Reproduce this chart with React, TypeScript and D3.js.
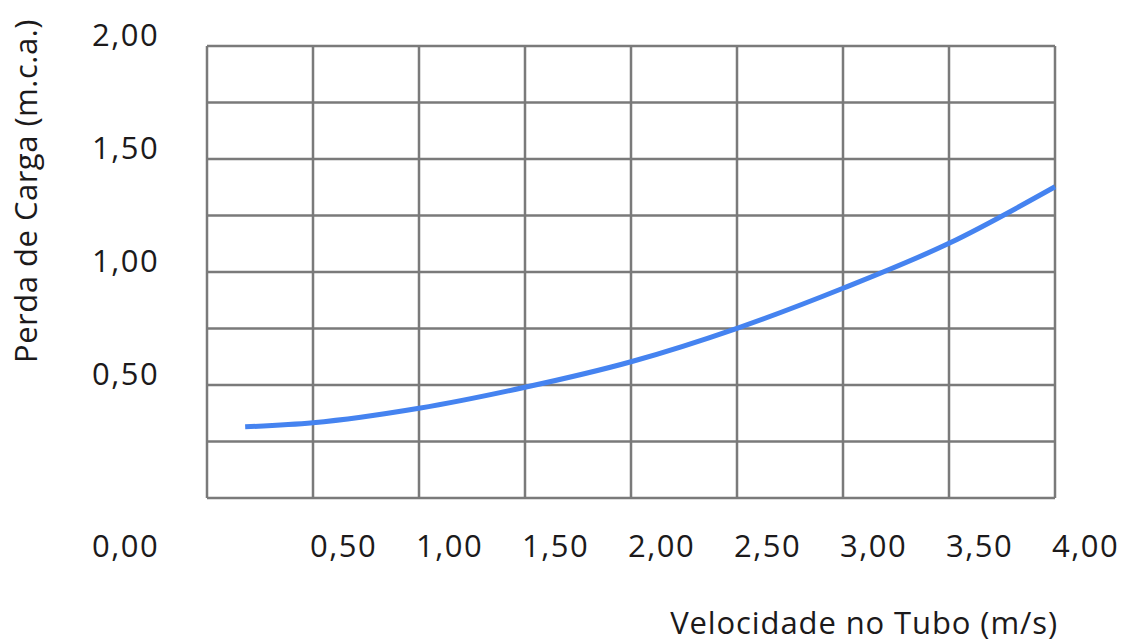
import React from 'react';
import * as d3 from 'd3';

// velocity (m/s) vs head loss (m.c.a.)
const velocity = [0.18, 0.5, 1.0, 1.5, 2.0, 2.5, 3.0, 3.5, 4.0];
const headLoss = [0.315, 0.333, 0.397, 0.49, 0.603, 0.751, 0.928, 1.127, 1.377];

const xTickValues = [0.5, 1, 1.5, 2, 2.5, 3, 3.5, 4];
const yTickValues = [0.5, 1, 1.5, 2];
const originLabel = 0;

const width = 1126;
const height = 644;
const margin = { top: 46, right: 71, bottom: 146, left: 207 };

const ptBR = d3.formatLocale({
  decimal: ',',
  thousands: '.',
  grouping: [3],
  currency: ['R$', ''],
});
const fmt = ptBR.format('.2f');

const FONT = "'Open Sans', Roboto, sans-serif";
const TEXT = '#1c1a1b';
const GRID = '#7a7a7a';
const LINE = '#4583f0';

const App: React.FC = () => {
  const x = d3
    .scaleLinear()
    .domain([0, 4])
    .range([margin.left, width - margin.right]);
  const y = d3
    .scaleLinear()
    .domain([0, 2])
    .range([height - margin.bottom, margin.top]);

  // grid every 0.5 m/s and every 0.25 m.c.a.
  const gridX = d3.range(0, 4.001, 0.5);
  const gridY = d3.range(0, 2.001, 0.25);

  const data = velocity.map((v, i) => [v, headLoss[i]] as [number, number]);
  const line = d3
    .line<[number, number]>()
    .x((d) => x(d[0]))
    .y((d) => y(d[1]))
    .curve(d3.curveMonotoneX);

  const labelLeft = 92;

  return (
    <svg
      width={width}
      height={height}
      style={{ position: 'absolute', left: 0, top: 0, background: '#fff' }}
      fontFamily={FONT}
    >
      {/* grid */}
      <g stroke={GRID} strokeWidth={2.5} fill="none">
        {gridX.map((t) => (
          <line key={'gx' + t} x1={x(t)} x2={x(t)} y1={y(0)} y2={y(2)} />
        ))}
        {gridY.map((t) => (
          <line key={'gy' + t} x1={x(0)} x2={x(4)} y1={y(t)} y2={y(t)} />
        ))}
      </g>

      {/* curve */}
      <path d={line(data) ?? ''} fill="none" stroke={LINE} strokeWidth={5} />

      {/* y tick labels */}
      <g fill={TEXT} fontSize={31} letterSpacing={1.5}>
        {yTickValues.map((t) => (
          <text key={'yl' + t} x={labelLeft} y={y(t)}>
            {fmt(t)}
          </text>
        ))}
      </g>

      {/* x tick labels */}
      <g fill={TEXT} fontSize={31} letterSpacing={1.5}>
        <text x={labelLeft} y={557}>
          {fmt(originLabel)}
        </text>
        {xTickValues.map((t) => (
          <text key={'xl' + t} x={x(t) - 3} y={557}>
            {fmt(t)}
          </text>
        ))}
      </g>

      {/* axis titles */}
      <text
        x={1058}
        y={634}
        textAnchor="end"
        fontSize={31}
        letterSpacing={0.9}
        fill={TEXT}
      >
        Velocidade no Tubo (m/s)
      </text>
      <text
        transform="translate(37,191) rotate(-90)"
        textAnchor="middle"
        fontSize={31}
        letterSpacing={0.5}
        fill={TEXT}
      >
        Perda de Carga (m.c.a.)
      </text>
    </svg>
  );
};

export default App;
